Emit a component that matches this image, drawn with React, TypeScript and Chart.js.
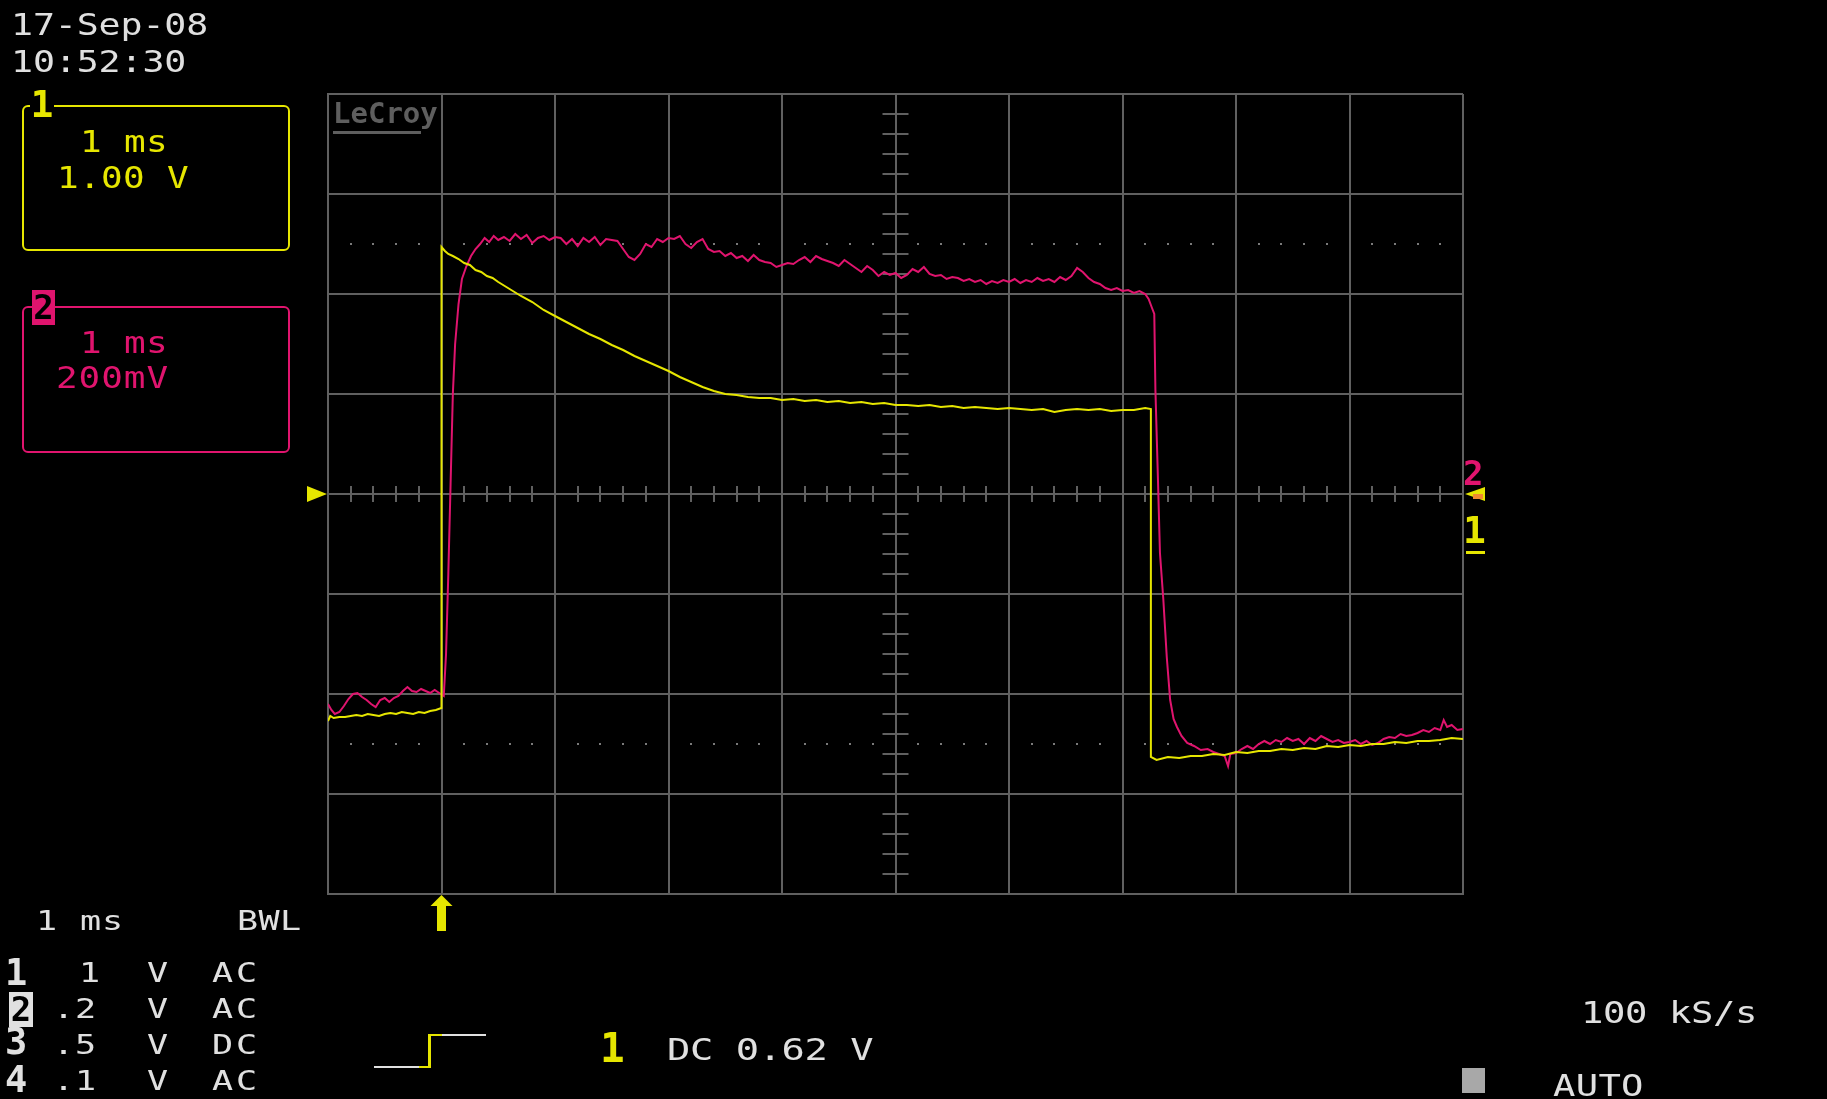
import React, { useEffect, useRef } from 'react';
import { Chart, registerables } from 'chart.js';

Chart.register(...registerables);

const W = 1827;
const H = 1099;
const GRID = '#606060';
const DOT = '#7a7a7a';
const YELLOW = '#e6e600';
const MAGENTA = '#e0146e';
const TEXT = '#e0e0e0';
const FONT = "'DejaVu Sans Mono', 'Liberation Mono', monospace";

// Screen is 10 horizontal divisions (1 ms/div) by 8 vertical divisions
const xRange = [0, 10];
const yRange = [-4, 4];
const triggerTime = 1; // trigger position (div)
const dottedRows = [2.5, -2.5];
const minorStep = 0.2;

// Channel 1 (yellow, 1 V/div) — time in div, level in div
const ch1Time = [
  0.0, 0.02, 0.05, 0.1, 0.15, 0.2, 0.25, 0.3, 0.35, 0.4, 0.45, 0.5, 0.55, 0.6, 0.65, 0.7, 0.75, 0.8, 0.85, 0.9, 0.95, 1.0,
  1.0, 1.03, 1.06, 1.1, 1.15, 1.2, 1.25, 1.3, 1.35, 1.4, 1.45, 1.5, 1.6, 1.7, 1.8, 1.9, 2.0, 2.1, 2.2, 2.3, 2.4, 2.5,
  2.6, 2.7, 2.8, 2.9, 3.0, 3.1, 3.2, 3.3, 3.4, 3.5, 3.6, 3.7, 3.8, 3.9, 4.0, 4.1, 4.2, 4.3, 4.4, 4.5, 4.6, 4.7, 4.8,
  4.9, 5.0, 5.1, 5.2, 5.3, 5.4, 5.5, 5.6, 5.7, 5.8, 5.9, 6.0, 6.1, 6.2, 6.3, 6.4, 6.5, 6.6, 6.7, 6.8, 6.9, 7.0, 7.1,
  7.2, 7.25, 7.25, 7.3, 7.4, 7.5, 7.6, 7.7, 7.8, 7.9, 8.0, 8.1, 8.2, 8.3, 8.4, 8.5, 8.6, 8.7, 8.8, 8.9, 9.0, 9.1, 9.2,
  9.3, 9.4, 9.5, 9.6, 9.7, 9.8, 9.9, 10.0,
];
const ch1Div = [
  -2.27, -2.22, -2.24, -2.23, -2.23, -2.22, -2.21, -2.22, -2.2, -2.21, -2.22, -2.2, -2.19, -2.2, -2.18, -2.19, -2.2, -2.18, -2.19, -2.17, -2.16, -2.14,
  2.47, 2.43, 2.4, 2.38, 2.35, 2.31, 2.29, 2.24, 2.22, 2.18, 2.16, 2.12, 2.05, 1.98, 1.92, 1.84, 1.78, 1.72, 1.66, 1.6, 1.55, 1.49,
  1.44, 1.38, 1.33, 1.28, 1.23, 1.17, 1.12, 1.07, 1.03, 1.0, 0.99, 0.97, 0.96, 0.96, 0.94, 0.95, 0.93, 0.94, 0.92, 0.93, 0.91, 0.92, 0.9,
  0.91, 0.89, 0.89, 0.88, 0.89, 0.87, 0.88, 0.86, 0.87, 0.86, 0.85, 0.86, 0.85, 0.84, 0.85, 0.82, 0.84, 0.85, 0.84, 0.85, 0.83, 0.84, 0.84,
  0.86, 0.85, -2.63, -2.66, -2.63, -2.64, -2.62, -2.62, -2.6, -2.61, -2.58, -2.59, -2.57, -2.57, -2.55, -2.56, -2.54, -2.55, -2.52, -2.53, -2.51, -2.52, -2.5,
  -2.5, -2.48, -2.49, -2.47, -2.47, -2.46, -2.44, -2.45,
];

// Channel 2 (magenta, 200 mV/div) — time in div, level in div
const ch2Time = [
  0.0, 0.03, 0.06, 0.1, 0.14, 0.18, 0.22, 0.26, 0.3, 0.34, 0.38, 0.42, 0.46, 0.5, 0.54, 0.58, 0.62, 0.66, 0.7, 0.74, 0.78,
  0.82, 0.86, 0.9, 0.94, 0.98, 1.02, 1.04, 1.06, 1.08, 1.1, 1.12, 1.15, 1.18, 1.22, 1.26, 1.3, 1.34, 1.38, 1.42, 1.46, 1.5,
  1.55, 1.6, 1.65, 1.7, 1.75, 1.8, 1.85, 1.9, 1.95, 2.0, 2.05, 2.1, 2.15, 2.2, 2.25, 2.3, 2.35, 2.4, 2.45, 2.5, 2.55, 2.6,
  2.65, 2.7, 2.75, 2.8, 2.85, 2.9, 2.95, 3.0, 3.05, 3.1, 3.15, 3.2, 3.25, 3.3, 3.35, 3.4, 3.45, 3.5, 3.55, 3.6, 3.65, 3.7,
  3.75, 3.8, 3.85, 3.9, 3.95, 4.0, 4.05, 4.1, 4.15, 4.2, 4.25, 4.3, 4.35, 4.4, 4.45, 4.5, 4.55, 4.6, 4.65, 4.7, 4.75, 4.8,
  4.85, 4.9, 4.95, 5.0, 5.05, 5.1, 5.15, 5.2, 5.25, 5.3, 5.35, 5.4, 5.45, 5.5, 5.55, 5.6, 5.65, 5.7, 5.75, 5.8, 5.85, 5.9,
  5.95, 6.0, 6.05, 6.1, 6.15, 6.2, 6.25, 6.3, 6.35, 6.4, 6.45, 6.5, 6.55, 6.6, 6.65, 6.7, 6.75, 6.8, 6.85, 6.9, 6.95, 7.0,
  7.05, 7.1, 7.15, 7.2, 7.23, 7.26, 7.28, 7.29, 7.31, 7.33, 7.36, 7.39, 7.42, 7.45, 7.48, 7.52, 7.57, 7.63, 7.69, 7.75,
  7.8, 7.85, 7.9, 7.93, 7.95, 8.0, 8.05, 8.1, 8.15, 8.2, 8.25, 8.3, 8.35, 8.4, 8.45, 8.5, 8.55, 8.6, 8.65, 8.7, 8.75, 8.8,
  8.85, 8.9, 8.95, 9.0, 9.05, 9.1, 9.15, 9.2, 9.25, 9.3, 9.35, 9.4, 9.45, 9.5, 9.55, 9.6, 9.65, 9.7, 9.75, 9.8, 9.83, 9.86,
  9.9, 9.95, 10.0,
];
const ch2Div = [
  -2.1, -2.16, -2.2, -2.18, -2.12, -2.05, -2.0, -1.99, -2.03, -2.06, -2.1, -2.13, -2.06, -2.04, -2.08, -2.04, -2.02, -1.97, -1.93, -1.97, -1.98,
  -1.95, -1.97, -1.99, -1.96, -1.99, -2.02, -1.6, -0.8, 0.1, 1.0, 1.5, 1.9, 2.15, 2.28, 2.38, 2.45, 2.5, 2.56, 2.52, 2.58, 2.54,
  2.57, 2.53, 2.6, 2.55, 2.59, 2.51, 2.56, 2.58, 2.54, 2.57, 2.56, 2.5, 2.55, 2.48, 2.56, 2.52, 2.57, 2.49, 2.55, 2.54, 2.53, 2.45,
  2.37, 2.34, 2.4, 2.5, 2.47, 2.55, 2.52, 2.56, 2.55, 2.58, 2.5, 2.46, 2.52, 2.55, 2.45, 2.42, 2.43, 2.38, 2.41, 2.36, 2.38, 2.33,
  2.39, 2.34, 2.32, 2.31, 2.27, 2.29, 2.31, 2.3, 2.34, 2.37, 2.32, 2.38, 2.35, 2.33, 2.31, 2.28, 2.34, 2.3, 2.26, 2.22, 2.28, 2.24,
  2.18, 2.22, 2.19, 2.21, 2.16, 2.19, 2.25, 2.22, 2.27, 2.2, 2.18, 2.19, 2.15, 2.17, 2.16, 2.13, 2.15, 2.12, 2.14, 2.1, 2.13, 2.11,
  2.14, 2.12, 2.15, 2.11, 2.14, 2.12, 2.16, 2.13, 2.15, 2.12, 2.17, 2.14, 2.18, 2.26, 2.22, 2.16, 2.12, 2.1, 2.06, 2.04, 2.06, 2.03,
  2.04, 2.01, 2.03, 2.0, 1.95, 1.86, 1.8, 1.04, 0.24, -0.59, -1.06, -1.63, -2.06, -2.25, -2.33, -2.42, -2.49, -2.52, -2.56, -2.55,
  -2.58, -2.6, -2.62, -2.72, -2.6, -2.59, -2.55, -2.52, -2.55, -2.5, -2.47, -2.5, -2.46, -2.48, -2.44, -2.47, -2.45, -2.5, -2.44, -2.47, -2.42, -2.45,
  -2.48, -2.46, -2.49, -2.48, -2.46, -2.5, -2.47, -2.51, -2.49, -2.45, -2.43, -2.44, -2.4, -2.42, -2.41, -2.39, -2.36, -2.38, -2.34, -2.36, -2.26, -2.33,
  -2.31, -2.36, -2.35,
];

const toPoints = (t: number[], v: number[]) => t.map((x, i) => ({ x, y: v[i] }));

const isInteger = (v: number) => Math.abs(v - Math.round(v)) < 1e-6;

const scopeDecor = {
  id: 'scopeDecor',
  beforeDatasetsDraw(chart: any) {
    const { ctx, scales } = chart;
    const x = scales.x;
    const y = scales.y;
    const cx = x.getPixelForValue((xRange[0] + xRange[1]) / 2);
    const cy = y.getPixelForValue(0);
    ctx.save();
    ctx.strokeStyle = GRID;
    ctx.lineWidth = 2;
    ctx.beginPath();
    for (let v = xRange[0] + minorStep; v < xRange[1] - 1e-6; v += minorStep) {
      if (isInteger(v)) continue;
      const px = Math.round(x.getPixelForValue(v));
      ctx.moveTo(px, cy - 8);
      ctx.lineTo(px, cy + 8);
    }
    for (let v = yRange[0] + minorStep; v < yRange[1] - 1e-6; v += minorStep) {
      if (isInteger(v)) continue;
      const py = Math.round(y.getPixelForValue(v));
      ctx.moveTo(cx - 13, py);
      ctx.lineTo(cx + 13, py);
    }
    ctx.stroke();
    ctx.fillStyle = DOT;
    for (const row of dottedRows) {
      const py = Math.round(y.getPixelForValue(row));
      for (let v = xRange[0] + minorStep; v < xRange[1] - 1e-6; v += minorStep) {
        if (isInteger(v)) continue;
        const px = Math.round(x.getPixelForValue(v));
        ctx.fillRect(px - 1, py - 1, 2, 2);
      }
    }
    ctx.restore();
  },
  afterDraw(chart: any) {
    const { ctx, scales, chartArea } = chart;
    const x = scales.x;
    const y = scales.y;
    const cy = y.getPixelForValue(0);
    ctx.save();
    // left trigger-level flag
    ctx.fillStyle = YELLOW;
    ctx.beginPath();
    ctx.moveTo(chartArea.left - 21, cy - 8);
    ctx.lineTo(chartArea.left - 1, cy);
    ctx.lineTo(chartArea.left - 21, cy + 8);
    ctx.closePath();
    ctx.fill();
    // right offset marker
    ctx.beginPath();
    ctx.moveTo(chartArea.right + 2, cy);
    ctx.lineTo(chartArea.right + 22, cy - 7);
    ctx.lineTo(chartArea.right + 22, cy + 7);
    ctx.closePath();
    ctx.fill();
    ctx.fillStyle = '#f08a30';
    ctx.fillRect(chartArea.right + 10, cy, 10, 5);
    // trigger-position arrow under the grid
    const tx = x.getPixelForValue(triggerTime);
    const b = chartArea.bottom;
    ctx.fillStyle = YELLOW;
    ctx.beginPath();
    ctx.moveTo(tx, b + 1);
    ctx.lineTo(tx + 11, b + 12);
    ctx.lineTo(tx - 11, b + 12);
    ctx.closePath();
    ctx.fill();
    ctx.fillRect(tx - 4.5, b + 11, 9, 26);
    ctx.restore();
  },
};

// Text placed by its baseline; `pitch` is the character advance on screen, `sx` widens the glyphs
function T(props: {
  x: number;
  base: number;
  fs: number;
  pitch?: number;
  sx?: number;
  color?: string;
  bold?: boolean;
  children: React.ReactNode;
}) {
  const { x, base, fs, sx = 1, color = TEXT, bold = false, children } = props;
  const pitch = props.pitch ?? 0.602 * fs * sx;
  const ls = pitch / sx - 0.602 * fs;
  return (
    <div
      style={{
        position: 'absolute',
        left: x,
        top: base - 0.846 * fs,
        fontFamily: FONT,
        fontSize: fs,
        lineHeight: `${fs}px`,
        letterSpacing: ls,
        color,
        fontWeight: bold ? 'bold' : 'normal',
        whiteSpace: 'pre',
        transform: `scaleX(${sx})`,
        transformOrigin: 'left top',
      }}
    >
      {children}
    </div>
  );
}

function Box(props: { left: number; top: number; w: number; h: number; bg: string; style?: any; children?: React.ReactNode }) {
  const { left, top, w, h, bg, style, children } = props;
  return (
    <div style={{ position: 'absolute', left, top, width: w, height: h, background: bg, ...style }}>{children}</div>
  );
}

export default function App() {
  const ref = useRef<HTMLCanvasElement>(null);

  useEffect(() => {
    document.body.style.margin = '0';
    document.body.style.background = '#000';
    document.body.style.overflow = 'hidden';
    const canvas = ref.current;
    if (!canvas) return;
    const chart = new Chart(canvas, {
      type: 'line',
      data: {
        datasets: [
          {
            label: 'Channel 1',
            data: toPoints(ch1Time, ch1Div),
            borderColor: YELLOW,
            borderWidth: 2,
            pointRadius: 0,
            tension: 0,
          },
          {
            label: 'Channel 2',
            data: toPoints(ch2Time, ch2Div),
            borderColor: MAGENTA,
            borderWidth: 2,
            pointRadius: 0,
            tension: 0,
          },
        ],
      },
      options: {
        animation: false,
        responsive: false,
        devicePixelRatio: 1,
        parsing: false as any,
        layout: { padding: { left: 328, top: 94, right: 364, bottom: 205 } },
        plugins: { legend: { display: false }, tooltip: { enabled: false } },
        events: [],
        scales: {
          x: {
            type: 'linear',
            min: xRange[0],
            max: xRange[1],
            ticks: { display: false, stepSize: 1 },
            grid: { color: GRID, lineWidth: 2, drawTicks: false },
            border: { display: true, color: GRID, width: 2 },
          },
          y: {
            type: 'linear',
            min: yRange[0],
            max: yRange[1],
            ticks: { display: false, stepSize: 1 },
            grid: { color: GRID, lineWidth: 2, drawTicks: false },
            border: { display: true, color: GRID, width: 2 },
          },
        },
      },
      plugins: [scopeDecor],
    });
    return () => chart.destroy();
  }, []);

  const rowBase = [982, 1018, 1054, 1090];

  return (
    <div style={{ position: 'absolute', left: 0, top: 0, width: W, height: H, background: '#000', overflow: 'hidden' }}>
      <canvas ref={ref} width={W} height={H} style={{ position: 'absolute', left: 0, top: 0, width: W, height: H }} />

      {/* date / time */}
      <T x={11} base={35} fs={30} sx={1.22} pitch={21.9}>17-Sep-08</T>
      <T x={11} base={72} fs={30} sx={1.22} pitch={21.9}>10:52:30</T>

      {/* channel 1 box */}
      <Box left={22} top={105} w={268} h={146} bg="transparent" style={{ border: `2px solid ${YELLOW}`, borderRadius: 6, boxSizing: 'border-box' }} />
      <Box left={30} top={88} w={24} h={32} bg="#000" style={{ color: YELLOW, fontFamily: FONT, fontWeight: 'bold', fontSize: 38, lineHeight: '32px', textAlign: 'center' }}>1</Box>
      <T x={80} base={152} fs={30} sx={1.2} pitch={22} color={YELLOW}>1 ms</T>
      <T x={57} base={188} fs={30} sx={1.2} pitch={22} color={YELLOW}>1.00 V</T>

      {/* channel 2 box */}
      <Box left={22} top={306} w={268} h={147} bg="transparent" style={{ border: `2px solid ${MAGENTA}`, borderRadius: 6, boxSizing: 'border-box' }} />
      <Box left={32} top={290} w={23} h={35} bg={MAGENTA} style={{ color: '#000', fontFamily: FONT, fontWeight: 'bold', fontSize: 34, lineHeight: '35px', textAlign: 'center' }}>2</Box>
      <T x={80} base={353} fs={30} sx={1.2} pitch={22} color={MAGENTA}>1 ms</T>
      <T x={56} base={388} fs={30} sx={1.2} pitch={22.6} color={MAGENTA}>200mV</T>

      {/* LeCroy logo */}
      <T x={333} base={124} fs={29} bold color="#5e5e5e">LeCroy</T>
      <Box left={333} top={131} w={88} h={3} bg="#5e5e5e" />

      {/* right channel markers */}
      <T x={1463} base={485} fs={34} bold color={MAGENTA}>2</T>
      <T x={1463} base={543} fs={38} bold color={YELLOW}>1</T>
      <Box left={1466} top={551} w={19} h={3} bg={YELLOW} />

      {/* bottom-left status */}
      <T x={36} base={930} fs={27} sx={1.3} pitch={22}>1 ms</T>
      <T x={237} base={930} fs={27} sx={1.3} pitch={21.5}>BWL</T>

      <T x={5} base={985} fs={37} bold>1</T>
      <Box left={9} top={992} w={24} h={35} bg={TEXT} style={{ color: '#000', fontFamily: FONT, fontWeight: 'bold', fontSize: 34, lineHeight: '35px', textAlign: 'center' }}>2</Box>
      <T x={5} base={1054} fs={37} bold>3</T>
      <T x={5} base={1092} fs={37} bold>4</T>

      <T x={79} base={rowBase[0]} fs={27} sx={1.3} pitch={22}>1</T>
      <T x={53} base={rowBase[1]} fs={27} sx={1.3} pitch={22}>.2</T>
      <T x={53} base={rowBase[2]} fs={27} sx={1.3} pitch={22}>.5</T>
      <T x={53} base={rowBase[3]} fs={27} sx={1.3} pitch={22}>.1</T>
      {rowBase.map((b) => (
        <T key={'v' + b} x={147} base={b} fs={27} sx={1.3}>V</T>
      ))}
      <T x={212} base={rowBase[0]} fs={27} sx={1.3} pitch={24}>AC</T>
      <T x={212} base={rowBase[1]} fs={27} sx={1.3} pitch={24}>AC</T>
      <T x={212} base={rowBase[2]} fs={27} sx={1.3} pitch={24}>DC</T>
      <T x={212} base={rowBase[3]} fs={27} sx={1.3} pitch={24}>AC</T>

      {/* trigger slope icon */}
      <Box left={374} top={1066} w={46} h={2} bg={TEXT} />
      <Box left={419} top={1066} w={11} h={2} bg={YELLOW} />
      <Box left={428} top={1034} w={3} h={34} bg={YELLOW} />
      <Box left={428} top={1034} w={14} h={2} bg={YELLOW} />
      <Box left={442} top={1034} w={44} h={2} bg={TEXT} />

      {/* trigger source / level */}
      <T x={600} base={1063} fs={41} bold color={YELLOW}>1</T>
      <T x={667} base={1060} fs={31} sx={1.25} pitch={22.9}>DC 0.62 V</T>

      {/* acquisition */}
      <T x={1581} base={1023} fs={31} sx={1.2} pitch={22}>100 kS/s</T>
      <Box left={1462} top={1068} w={23} h={25} bg="#a8a8a8" />
      <T x={1553} base={1096} fs={31} sx={1.2} pitch={22.7}>AUTO</T>
    </div>
  );
}
